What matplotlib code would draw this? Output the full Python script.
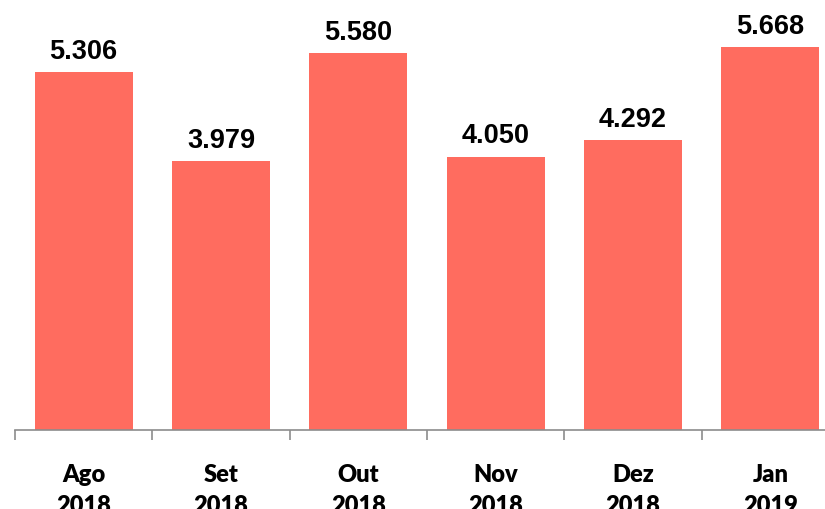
import matplotlib.pyplot as plt
import numpy as np

# Data
months = ["Ago\n2018", "Set\n2018", "Out\n2018", "Nov\n2018", "Dez\n2018", "Jan\n2019"]
values = [5.306, 3.979, 5.580, 4.050, 4.292, 5.668]
value_labels = ["5.306", "3.979", "5.580", "4.050", "4.292", "5.668"]

bar_color = "#FF6C5F"
axis_color = "#8C8C8C"

fig = plt.figure(figsize=(8.25, 5.1), dpi=100)
# axes runs slightly past the right edge, as in the original
ax = fig.add_axes([15 / 825, 1 - 431 / 510, 824 / 825, 431 / 510])

x = np.arange(len(months))
ax.bar(x, values, width=0.714, color=bar_color, zorder=2)

for xi, v, lab in zip(x, values, value_labels):
    ax.annotate(lab, (xi, v), xytext=(0, 6), textcoords="offset points",
                ha="center", va="bottom", fontsize=19.5, fontweight="bold",
                family="Liberation Sans", color="black")

ax.set_xlim(-0.5, len(months) - 0.5)
ax.set_ylim(0, 6.385)

# Category labels, no tick marks at centers
ax.set_xticks(x)
ax.set_xticklabels(months, fontsize=17, fontweight="heavy", family="Lato",
                   linespacing=1.5)
ax.tick_params(axis="x", which="major", length=0, pad=24)

# Tick marks at category boundaries
ax.set_xticks(np.arange(-0.5, len(months), 1), minor=True)
ax.tick_params(axis="x", which="minor", length=7, width=1.2, color=axis_color)

ax.set_yticks([])
for side in ["top", "right", "left"]:
    ax.spines[side].set_visible(False)
ax.spines["bottom"].set_color(axis_color)
ax.spines["bottom"].set_linewidth(1.2)

fig.savefig("out.png", dpi=100)
